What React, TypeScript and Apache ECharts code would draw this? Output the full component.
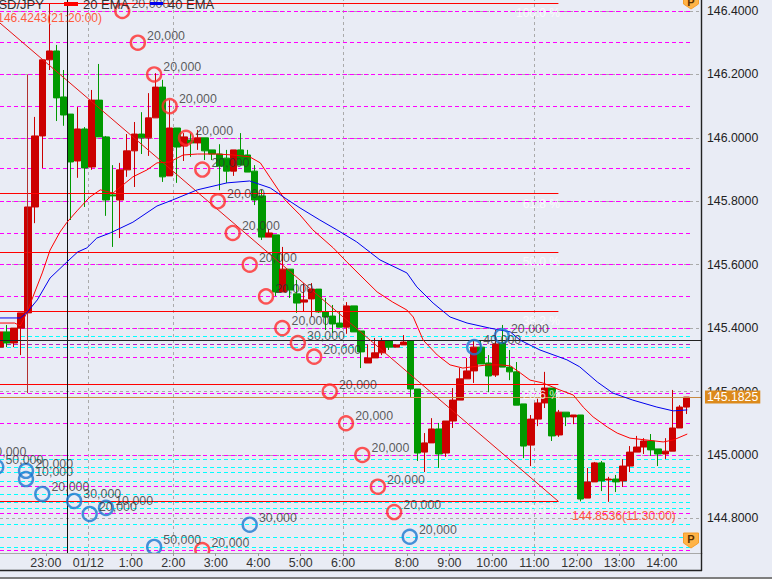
import React, { useEffect, useRef } from "react";
import * as echarts from "echarts";

// open, close, low, high per 10-minute candle, first candle sits at index -1
const candles: number[][] = [
  [145.340,145.388,145.334,145.394],[145.388,145.353,145.340,145.410],[145.353,145.400,145.340,145.400],[145.400,145.448,145.315,145.448],
  [145.448,145.782,145.448,145.782],[145.782,146.006,145.731,146.066],[146.006,146.246,145.905,146.246],[146.246,146.274,146.214,146.4243],
  [146.274,146.126,146.053,146.293],[146.129,146.072,146.038,146.214],[146.075,145.924,145.741,146.075],[145.927,146.028,145.874,146.097],
  [146.028,145.905,145.782,146.034],[145.908,146.119,145.899,146.151],[146.119,146.003,146.003,146.233],[146.003,145.804,145.754,146.006],
  [145.820,145.817,145.656,145.914],[145.804,145.899,145.684,145.921],[145.899,145.959,145.877,146.012],[145.959,146.012,145.845,146.050],
  [146.012,146.000,145.949,146.081],[146.000,146.063,145.943,146.141],[146.063,146.160,146.063,146.204],[146.160,145.877,145.861,146.183],
  [145.880,146.031,145.880,146.119],[146.031,145.971,145.858,146.031],[145.974,146.003,145.927,146.015],[145.993,145.984,145.940,146.015],
  [145.984,146.000,145.962,146.025],[146.000,145.959,145.930,146.000],[145.962,145.949,145.930,145.962],[145.949,145.911,145.835,145.980],
  [145.936,145.895,145.858,145.962],[145.895,145.962,145.880,145.962],[145.962,145.914,145.914,146.015],[145.946,145.892,145.892,145.962],
  [145.895,145.804,145.788,145.914],[145.817,145.687,145.678,145.836],[145.687,145.700,145.687,145.713],[145.694,145.514,145.501,145.694],
  [145.514,145.586,145.514,145.656],[145.586,145.520,145.495,145.586],[145.508,145.479,145.448,145.552],[145.482,145.489,145.451,145.542],
  [145.492,145.523,145.435,145.542],[145.523,145.451,145.448,145.523],[145.451,145.435,145.394,145.495],[145.438,145.413,145.385,145.473],
  [145.416,145.403,145.403,145.451],[145.403,145.470,145.382,145.482],[145.470,145.388,145.388,145.470],[145.391,145.325,145.274,145.391],
  [145.290,145.306,145.290,145.347],[145.306,145.322,145.306,145.369],[145.322,145.360,145.315,145.369],[145.360,145.340,145.331,145.360],
  [145.340,145.347,145.340,145.347],[145.347,145.356,145.347,145.378],[145.360,145.208,145.183,145.360],[145.208,145.006,144.981,145.208],
  [145.009,145.038,144.946,145.069],[145.038,145.082,145.038,145.116],[145.082,145.003,144.959,145.101],[145.006,145.107,144.994,145.107],
  [145.107,145.173,145.085,145.211],[145.173,145.240,145.173,145.274],[145.240,145.265,145.240,145.306],[145.265,145.340,145.227,145.362],
  [145.340,145.287,145.287,145.362],[145.290,145.249,145.198,145.315],[145.252,145.350,145.246,145.394],[145.353,145.277,145.277,145.410],
  [145.277,145.262,145.236,145.331],[145.262,145.157,145.157,145.293],[145.161,145.028,144.990,145.161],[145.031,145.113,144.965,145.126],
  [145.113,145.164,145.091,145.180],[145.164,145.211,145.148,145.262],[145.211,145.060,145.044,145.211],[145.063,145.135,145.057,145.142],
  [145.135,145.120,145.091,145.135],[145.120,145.126,145.097,145.126],[145.126,144.861,144.8536,145.126],[144.864,144.915,144.864,144.959],
  [144.915,144.975,144.915,144.978],[144.975,144.918,144.886,144.981],[144.921,144.924,144.852,144.931],[144.924,144.915,144.883,144.937],
  [144.918,144.965,144.899,144.987],[144.965,145.009,144.946,145.028],[145.009,145.025,145.009,145.060],[145.025,145.044,145.003,145.053],
  [145.044,145.016,144.997,145.066],[145.019,145.003,144.965,145.019],[145.003,145.012,144.987,145.053],[145.012,145.085,145.012,145.205],
  [145.085,145.151,145.085,145.157],[145.151,145.1825,145.129,145.1825],
];

const ema20: number[][] = [
  [-0.5,145.416],[1.6,145.416],[2.4,145.407],[3.3,145.448],[5.5,145.574],[6.6,145.646],[8.0,145.703],[9.0,145.734],[10.5,145.772],[12.2,145.813],
  [13.7,145.836],[15.5,145.826],[18.3,145.877],[20.3,145.899],[21.7,145.921],[23.5,145.924],[25.4,145.946],[27.4,145.949],[30.2,145.949],[32.4,145.946],
  [34.8,145.940],[36.3,145.921],[37.7,145.874],[39.8,145.804],[41.9,145.757],[43.7,145.710],[46.6,145.653],[48.5,145.609],[50.8,145.558],[52.8,145.514],
  [55.0,145.482],[57.0,145.457],[57.9,145.435],[59.3,145.362],[61.3,145.315],[63.1,145.284],[64.9,145.274],[68.3,145.284],[70.2,145.284],[71.6,145.281],
  [73.0,145.259],[74.4,145.236],[76.2,145.227],[78.6,145.205],[80.5,145.189],[81.9,145.151],[83.3,145.120],[85.3,145.088],[86.7,145.069],[88.5,145.053],
  [90.9,145.047],[93.2,145.041],[94.6,145.047],[96.6,145.066],
];

const ema40: number[][] = [
  [-0.5,145.432],[2.4,145.432],[3.3,145.448],[4.8,145.489],[6.6,145.558],[9.0,145.609],[10.5,145.640],[11.8,145.653],[13.2,145.684],[15.1,145.700],
  [18.3,145.734],[21.7,145.785],[23.9,145.804],[27.4,145.836],[31.6,145.858],[34.8,145.864],[37.7,145.842],[39.8,145.810],[41.9,145.779],[44.7,145.741],
  [47.1,145.710],[49.9,145.672],[53.2,145.615],[57.0,145.574],[58.4,145.530],[60.7,145.479],[63.1,145.435],[65.5,145.416],[68.7,145.400],[71.6,145.388],
  [73.0,145.362],[75.8,145.331],[79.6,145.300],[81.4,145.278],[83.9,145.230],[86.1,145.195],[88.9,145.173],[92.3,145.151],[94.6,145.139],[96.6,145.142],
];

const sellOrders: (number | string)[][] = [
  [16.8,146.4,"20,000"],[19.0,146.3,"20,000"],[21.3,146.2,"20,000"],[23.5,146.1,"20,000"],[25.8,146.0,"20,000"],[28.1,145.9,"20,000"],
  [30.3,145.8,"20,000"],[32.4,145.7,"20,000"],[34.8,145.6,"20,000"],[37.1,145.5,"20,000"],[39.4,145.4,"20,000"],[41.6,145.353,"30,000"],
  [43.9,145.31,"20,000"],[46.1,145.2,"20,000"],[48.4,145.1,"20,000"],[50.7,145.0,"20,000"],[52.9,144.9,"20,000"],[55.2,144.82,"20,000"],
  [28.1,144.7,"20,000"],
];

const buyOrders: (number | string)[][] = [
  [-3.4,144.987,"10,000"],[-1.0,144.962,"50,000"],[3.2,144.95,"20,000"],[3.2,144.924,"10,000"],[5.5,144.877,"20,000"],[10.0,144.855,"30,000"],
  [12.2,144.814,"20,000"],[14.5,144.833,"10,000"],[21.3,144.71,"50,000"],[34.8,144.78,"30,000"],[57.4,144.742,"20,000"],[66.5,145.34,"40,000"],
  [70.4,145.375,"20,000"],
];

const magentaLevels = [146.4,146.3,146.2,146.1,146.0,145.905,145.8,145.7,145.6,145.5,145.4,145.309,145.196,145.1,145.0,144.9,144.817,144.7];
const purpleLevels = [145.35];
const cyanLevels = [145.375,145.34,144.987,144.962,144.946,144.918,144.877,144.852,144.833,144.78,144.742,144.71];
const fibLevels = [146.4243,145.8243,145.639,145.4536,145.2243,144.8536];
const fibLabels = ["100.0 %","61.8 %","50.0 %","38.2 %","23.6 %","0.0 %"];
const blackLevel = 145.361;
const lastPrice = 145.1825;
const trendLine = [[-0.47,146.362],[78.4,144.8536]];

const yTicks = [144.8,145.0,145.2,145.4,145.6,145.8,146.0,146.2,146.4];
const xTickValues = [6,12,18,24,30,36,42,48,57,63,69,75,81,87,93];
const xTickLabels = ["23:00","01/12","1:00","2:00","3:00","4:00","5:00","6:00","8:00","9:00","10:00","11:00","12:00","13:00","14:00"];
const xGridValues = [12,24,48,75];

const X_MIN = -0.47;
const X_MAX = 98.68;
const Y_MIN = 144.6908;
const Y_MAX = 146.4347;
const FONT = "'Liberation Sans', Arial, sans-serif";
const BG = "#e9ecf5";

function marks(pairs: number[][][], style: any, z: number) {
  return {
    type: "line",
    data: [],
    silent: true,
    z,
    markLine: {
      silent: true,
      symbol: "none",
      z,
      animation: false,
      label: { show: false },
      lineStyle: style,
      data: pairs.map((p) => [{ coord: p[0] }, { coord: p[1] }]),
    },
  };
}
const hPairs = (levels: number[], x0: number, x1: number) => levels.map((p) => [[x0, p], [x1, p]]);

function orders(data: (number | string)[][], color: string) {
  return {
    type: "scatter",
    data,
    z: 4,
    clip: false,
    silent: true,
    symbol: "circle",
    symbolSize: 14,
    itemStyle: { color: "transparent", borderColor: color, borderWidth: 2.4 },
    label: {
      show: true,
      position: "right",
      distance: 1,
      offset: [0, -7],
      color: "#333333",
      fontFamily: FONT,
      fontSize: 12.4,
      formatter: (p: any) => p.data[2],
    },
  };
}

function txt(text: string, x: number, y: number, fill: string, fontSize: number, textAlign = "left", opacity = 1, fontWeight = "normal") {
  return {
    type: "text",
    z: 12,
    silent: true,
    style: { text, x, y, fill, fontSize, fontWeight, fontFamily: FONT, textAlign, textVerticalAlign: "middle", opacity },
  };
}

const fibTextY = [13, 204, 262, 321, 395, 510];

export default function App() {
  const ref = useRef<HTMLDivElement>(null);
  useEffect(() => {
    const chart = echarts.init(ref.current!, undefined, { renderer: "svg" });
    chart.setOption({
      animation: false,
      backgroundColor: BG,
      grid: { left: 0, right: 70, top: 0, bottom: 26, containLabel: false },
      xAxis: {
        type: "value",
        min: X_MIN,
        max: X_MAX,
        z: 10,
        splitLine: { show: false },
        axisLine: { show: true, onZero: false, lineStyle: { color: "#a8a8a8", width: 1 } },
        axisTick: { show: true, length: 3, customValues: xTickValues, lineStyle: { color: "#999" } },
        axisLabel: {
          customValues: xTickValues,
          color: "#333333",
          fontFamily: FONT,
          fontSize: 12.4,
          margin: 4,
          formatter: (v: number) => xTickLabels[xTickValues.indexOf(v)] ?? "",
        },
      },
      yAxis: {
        type: "value",
        position: "right",
        min: Y_MIN,
        max: Y_MAX,
        axisLine: { show: false },
        axisTick: { show: false, customValues: yTicks },
        splitLine: { show: true, lineStyle: { color: "#aaaaaa", type: [3, 3], width: 1 } },
        axisLabel: {
          customValues: yTicks,
          color: "#222",
          fontFamily: FONT,
          fontSize: 12.3,
          margin: 5,
          formatter: (v: number) => v.toFixed(4),
        },
      },
      series: [
        marks(xGridValues.map((x) => [[x, Y_MIN], [x, Y_MAX]]), { color: "#aaaaaa", type: [3, 3], width: 1 }, 1),
        marks(hPairs(magentaLevels, X_MIN, 97.3), { color: "#ff00ff", type: [4, 3], width: 1 }, 1),
        marks(hPairs(purpleLevels, X_MIN, 97.3), { color: "#b020c8", type: [4, 3], width: 1 }, 1),
        marks(hPairs(cyanLevels, X_MIN, 97.3), { color: "#00ffff", type: [4, 3], width: 1 }, 1),
        {
          type: "candlestick",
          z: 2,
          silent: true,
          barWidth: 7,
          encode: { x: 0, y: [1, 2, 3, 4] },
          data: candles.map((c, i) => [i - 0.5, c[0], c[1], c[2], c[3]]),
          itemStyle: { color: "#cc0000", color0: "#009900", borderColor: "#cc0000", borderColor0: "#009900", borderWidth: 1 },
        },
        marks(hPairs([blackLevel], X_MIN, X_MAX), { color: "#222222", type: "solid", width: 1 }, 3),
        {
          type: "line",
          data: [],
          silent: true,
          z: 3,
          markLine: {
            silent: true,
            symbol: "none",
            z: 3,
            animation: false,
            lineStyle: { color: "#c88a40", type: "solid", width: 1 },
            label: {
              show: true,
              position: "end",
              distance: 3,
              backgroundColor: "#dc8a1c",
              color: "#ffffff",
              fontFamily: FONT,
              fontSize: 12.3,
              padding: [1, 2, 0, 2],
              formatter: () => lastPrice.toFixed(4),
            },
            data: [[{ coord: [X_MIN, lastPrice] }, { coord: [X_MAX, lastPrice] }]],
          },
        },
        marks(hPairs(fibLevels, X_MIN, 78.4), { color: "#ff0000", type: "solid", width: 1 }, 3),
        marks([trendLine], { color: "#e81010", type: "solid", width: 1 }, 3),
        marks([[[9.0, Y_MIN], [9.0, Y_MAX]]], { color: "#111111", type: "solid", width: 1 }, 3),
        marks([[[3.4, 145.195], [3.4, 146.2]]], { color: "#b03030", type: "solid", width: 1 }, 3),
        {
          type: "line",
          name: "20 EMA",
          z: 3,
          silent: true,
          showSymbol: false,
          data: ema20,
          lineStyle: { color: "#ff0000", width: 1 },
        },
        {
          type: "line",
          name: "40 EMA",
          z: 3,
          silent: true,
          showSymbol: false,
          data: ema40,
          lineStyle: { color: "#0000ee", width: 1 },
        },
        orders(sellOrders, "#ff2c2c"),
        orders(buyOrders, "#1a78d0"),
      ],
      graphic: [
        { type: "rect", z: 5, silent: true, shape: { x: 0, y: 553.5, width: 702, height: 17 }, style: { fill: BG } },
        { type: "line", z: 12, silent: true, shape: { x1: 701.5, y1: 0, x2: 701.5, y2: 571 }, style: { stroke: "#222", lineWidth: 1.4 } },
        { type: "line", z: 12, silent: true, shape: { x1: 0, y1: 570.5, x2: 702, y2: 570.5 }, style: { stroke: "#222", lineWidth: 1.4 } },
        { type: "rect", z: 12, silent: true, shape: { x: 0, y: 577, width: 772, height: 2 }, style: { fill: "#7e7e7e" } },
        txt("USD/JPY", -11, 4, "#333", 13),
        { type: "rect", z: 12, silent: true, shape: { x: 64, y: 2, width: 14, height: 4 }, style: { fill: "#ff0000" } },
        txt("20 EMA", 83, 4, "#333", 13),
        { type: "rect", z: 12, silent: true, shape: { x: 150, y: 2, width: 13, height: 3 }, style: { fill: "#0000ee" } },
        txt("40 EMA", 168, 4, "#333", 13),
        txt("146.4243(21:20:00)", 102, 18, "#ff5a3c", 12, "right"),
        txt("144.8536(11:30:00)", 572, 516, "#ff5a3c", 12),
        ...fibLabels.map((l, i) => txt(l, 560, fibTextY[i], "#ffffff", 12, "right", 0.8)),
        {
          type: "polygon",
          z: 12,
          silent: true,
          shape: { points: [[683.5, -7], [698.5, -7], [698.5, 4], [691, 9], [683.5, 4]] },
          style: { fill: "#ffb347", stroke: "#f59e2b", lineWidth: 1 },
        },
        txt("P", 691, 2, "#5a3000", 11, "center", 1, "bold"),
        {
          type: "polygon",
          z: 12,
          silent: true,
          shape: { points: [[683.5, 533], [698.5, 533], [698.5, 543], [691, 548], [683.5, 543]] },
          style: { fill: "#ffb347", stroke: "#f59e2b", lineWidth: 1 },
        },
        txt("P", 691, 539, "#5a3000", 11, "center", 1, "bold"),
      ],
    });
    return () => chart.dispose();
  }, []);
  return <div ref={ref} style={{ position: "absolute", left: 0, top: 0, width: 772, height: 579 }} />;
}
